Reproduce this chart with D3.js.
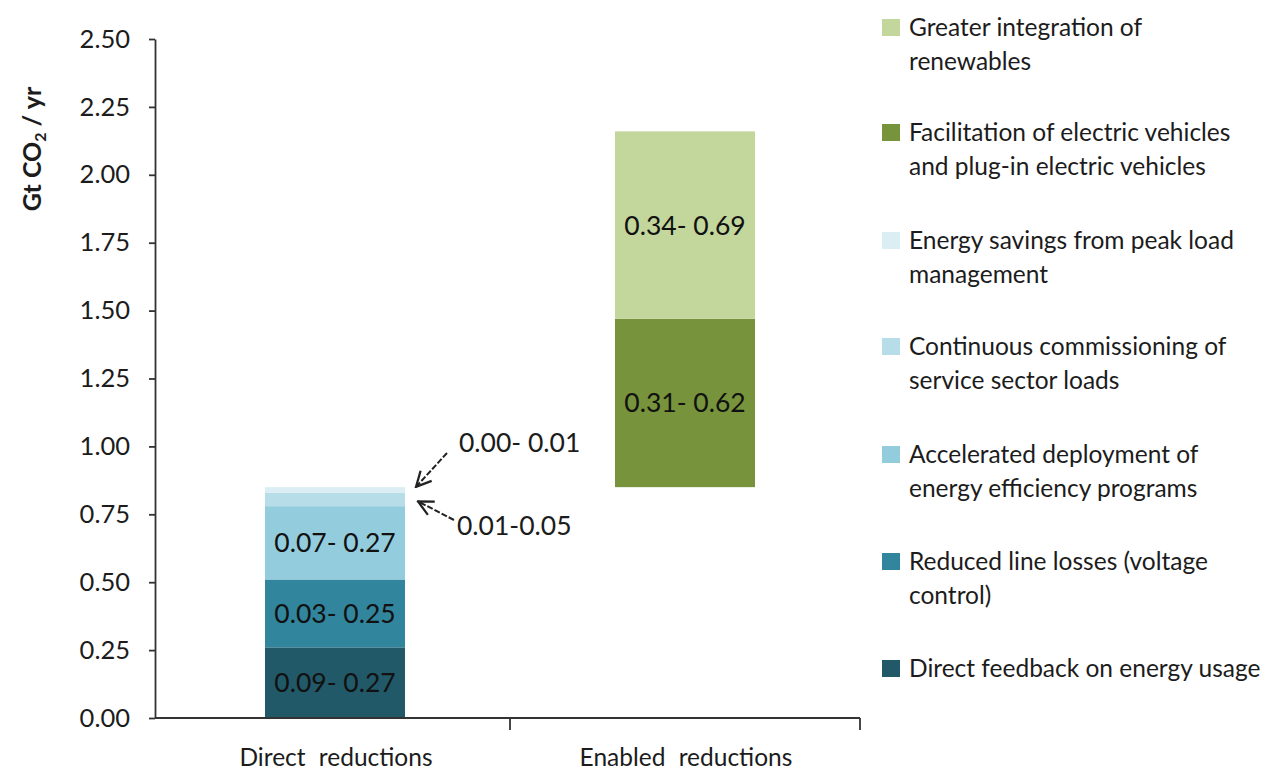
<!DOCTYPE html>
<html>
<head>
<meta charset="utf-8">
<script src="https://cdn.jsdelivr.net/npm/d3@7"></script>
<style>
  html, body { margin: 0; padding: 0; background: #fff; }
  svg { display: block; font-family: Lato, "Open Sans", sans-serif; }
</style>
</head>
<body>
<svg id="chart" width="1276" height="774"></svg>
<script>
// ---- data ----
const categories = ["Direct reductions", "Enabled reductions"];
const directSeries = ["Direct feedback on energy usage", "Reduced line losses (voltage control)",
  "Accelerated deployment of energy efficiency programs", "Continuous commissioning of service sector loads",
  "Energy savings from peak load management"];
const directValues = [0.26, 0.25, 0.27, 0.05, 0.02];
const directLabels = ["0.09- 0.27", "0.03- 0.25", "0.07- 0.27", "", ""];
const enabledSeries = ["Facilitation of electric vehicles and plug-in electric vehicles", "Greater integration of renewables"];
const enabledValues = [0.62, 0.69];
const enabledLabels = ["0.31- 0.62", "0.34- 0.69"];
const calloutLabels = ["0.00- 0.01", "0.01-0.05"];
const yTicks = [0, 0.25, 0.5, 0.75, 1.0, 1.25, 1.5, 1.75, 2.0, 2.25, 2.5];
const legendItems = [
  { key: "Greater integration of renewables", lines: ["Greater integration of", "renewables"] },
  { key: "Facilitation of electric vehicles and plug-in electric vehicles", lines: ["Facilitation of electric vehicles", "and plug-in electric vehicles"] },
  { key: "Energy savings from peak load management", lines: ["Energy savings from peak load", "management"] },
  { key: "Continuous commissioning of service sector loads", lines: ["Continuous commissioning of", "service sector loads"] },
  { key: "Accelerated deployment of energy efficiency programs", lines: ["Accelerated deployment of", "energy efficiency programs"] },
  { key: "Reduced line losses (voltage control)", lines: ["Reduced line losses (voltage", "control)"] },
  { key: "Direct feedback on energy usage", lines: ["Direct feedback on energy usage"] }
];
const colors = {
  "Direct feedback on energy usage": "#215968",
  "Reduced line losses (voltage control)": "#31859C",
  "Accelerated deployment of energy efficiency programs": "#93CDDD",
  "Continuous commissioning of service sector loads": "#B7DEE8",
  "Energy savings from peak load management": "#DBEEF4",
  "Facilitation of electric vehicles and plug-in electric vehicles": "#77933C",
  "Greater integration of renewables": "#C3D69B"
};

// ---- build segments ----
const segments = [];
let acc = 0;
directSeries.forEach((s, i) => {
  segments.push({ cat: categories[0], key: s, y0: acc, y1: acc + directValues[i], label: directLabels[i] });
  acc += directValues[i];
});
enabledSeries.forEach((s, i) => {
  segments.push({ cat: categories[1], key: s, y0: acc, y1: acc + enabledValues[i], label: enabledLabels[i] });
  acc += enabledValues[i];
});

// ---- scales ----
const svg = d3.select("#chart");
const x = d3.scaleBand().domain(categories).range([160, 860]).paddingInner(0.6).paddingOuter(0.3);
const xb = d3.scaleBand().domain(categories).range([160, 860]);
const y = d3.scaleLinear().domain([0, 2.5]).range([718, 39]);
const axisColor = "#333";
const textColor = "#1c1c1c";

// bars
svg.append("g").selectAll("rect").data(segments).join("rect")
  .attr("x", d => x(d.cat))
  .attr("width", x.bandwidth())
  .attr("y", d => y(d.y1))
  .attr("height", d => y(d.y0) - y(d.y1))
  .attr("fill", d => colors[d.key]);

svg.append("g").selectAll("text").data(segments.filter(d => d.label)).join("text")
  .attr("x", d => x(d.cat) + x.bandwidth() / 2)
  .attr("y", d => (y(d.y0) + y(d.y1)) / 2)
  .attr("dy", "0.36em")
  .attr("text-anchor", "middle")
  .attr("font-size", 26.5)
  .attr("fill", "#111")
  .text(d => d.label);

// y axis
const yAxis = d3.axisLeft(y).tickValues(yTicks).tickFormat(d3.format(".2f"))
  .tickSize(6).tickSizeOuter(0).tickPadding(19);
const gy = svg.append("g").attr("transform", "translate(155,0)").call(yAxis);
gy.select(".domain").attr("stroke", axisColor).attr("stroke-width", 1.8);
gy.selectAll(".tick line").attr("stroke", axisColor).attr("stroke-width", 1.8);
gy.selectAll(".tick text").attr("font-size", 25.5).attr("fill", textColor)
  .attr("font-family", "Lato, sans-serif");

// x axis
svg.append("line").attr("x1", 155).attr("x2", xb.range()[1]).attr("y1", y(0)).attr("y2", y(0))
  .attr("stroke", axisColor).attr("stroke-width", 1.8);
const bounds = [xb.range()[0], xb(categories[1]), xb.range()[1]];
svg.append("g").selectAll("line").data(bounds.slice(1)).join("line")
  .attr("x1", d => d).attr("x2", d => d).attr("y1", y(0)).attr("y2", y(0) + 12)
  .attr("stroke", axisColor).attr("stroke-width", 1.8);
svg.append("g").selectAll("text").data(categories).join("text")
  .attr("x", d => xb(d) + xb.bandwidth() / 2 + 1)
  .attr("y", 766)
  .attr("text-anchor", "middle")
  .attr("font-size", 24.5)
  .attr("fill", textColor)
  .attr("word-spacing", 7)
  .text(d => d);

// y label
const yl = svg.append("text")
  .attr("transform", "translate(41,149) rotate(-90)")
  .attr("text-anchor", "middle")
  .attr("font-size", 25)
  .attr("font-weight", "bold")
  .attr("fill", textColor);
yl.append("tspan").text("Gt  CO");
yl.append("tspan").attr("font-size", 16).attr("dy", 5).text("2");
yl.append("tspan").attr("dy", -5).text(" / yr");

// callouts
const defs = svg.append("defs");
defs.append("marker").attr("id", "arr").attr("viewBox", "0 0 12 12").attr("refX", 11).attr("refY", 6)
  .attr("markerWidth", 18).attr("markerHeight", 18).attr("markerUnits", "userSpaceOnUse").attr("orient", "auto")
  .append("path").attr("d", "M1,1 L11,6 L1,11").attr("fill", "none").attr("stroke", "#222").attr("stroke-width", 1.5);
const barRight = x(categories[0]) + x.bandwidth();
const topSeg = segments[4], secondSeg = segments[3];
const callouts = [
  { label: calloutLabels[0], tx: 459, ty: 452, sx: 447, sy: 453, ex: barRight + 11, ey: (y(topSeg.y1) + y(topSeg.y0)) / 2 - 3 },
  { label: calloutLabels[1], tx: 457, ty: 535, sx: 454, sy: 520, ex: barRight + 13, ey: (y(secondSeg.y1) + y(secondSeg.y0)) / 2 + 2 }
];
svg.append("g").selectAll("line").data(callouts).join("line")
  .attr("x1", d => d.sx).attr("y1", d => d.sy).attr("x2", d => d.ex).attr("y2", d => d.ey)
  .attr("stroke", "#222").attr("stroke-width", 2).attr("stroke-dasharray", "6,2")
  .attr("marker-end", "url(#arr)");
svg.append("g").selectAll("text").data(callouts).join("text")
  .attr("x", d => d.tx).attr("y", d => d.ty)
  .attr("font-size", 26.5).attr("fill", textColor)
  .text(d => d.label);

// legend
const lg = svg.append("g");
const itemTop = [19, 124, 232, 338, 446, 553, 660];
legendItems.forEach((it, i) => {
  const g = lg.append("g").attr("transform", `translate(882,${itemTop[i]})`);
  g.append("rect").attr("width", 18).attr("height", 17).attr("fill", colors[it.key]);
  it.lines.forEach((ln, j) => {
    g.append("text").attr("x", 27).attr("y", 17 + j * 34)
      .attr("font-size", 24.5).attr("fill", textColor).text(ln);
  });
});
</script>
</body>
</html>
